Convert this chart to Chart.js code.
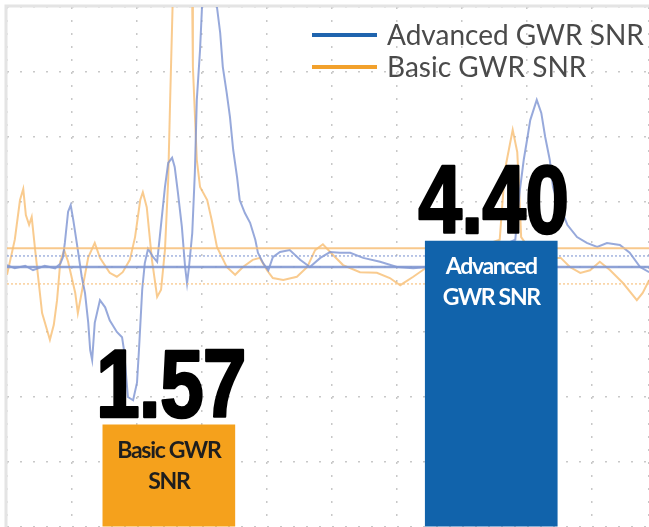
<!DOCTYPE html>
<html>
<head>
<meta charset="utf-8">
<script src="https://cdn.jsdelivr.net/npm/chart.js@4.4.1/dist/chart.umd.min.js"></script>
<style>
  html, body { margin: 0; padding: 0; background: #fff; }
  #wrap { width: 649px; height: 527px; position: relative; }
</style>
</head>
<body>
<div id="wrap"><canvas id="snrChart"></canvas></div>
<script>
// legend names of the two traces
const seriesNames = ['Advanced GWR SNR', 'Basic GWR SNR'];

// the two SNR bars
const barLabels = [['Basic GWR', 'SNR'], ['Advanced', 'GWR SNR']];
const snrValues = [1.57, 4.40];
const barPositions = [2.49, 7.45]; // in grid divisions

// echo traces, time in divisions, amplitude in divisions (0 = centre line)
const advancedTime = [0, 0.12, 0.28, 0.40, 0.58, 0.74, 0.82, 0.86, 0.89, 0.94, 0.98, 1.02, 1.06, 1.09, 1.15, 1.20, 1.25, 1.28, 1.31, 1.35,
  1.43, 1.51, 1.58, 1.69, 1.77, 1.80, 1.86, 1.94, 2.00, 2.03, 2.08, 2.12, 2.17, 2.25, 2.31, 2.35, 2.43, 2.48, 2.54, 2.58,
  2.63, 2.69, 2.74, 2.77, 2.80, 2.85, 2.89, 2.92, 2.97, 3.00, 3.06, 3.17, 3.23, 3.28, 3.32, 3.38, 3.43, 3.48, 3.54, 3.58,
  3.66, 3.74, 3.82, 3.86, 3.94, 4.02, 4.09, 4.20, 4.35, 4.51, 4.66, 4.82, 4.97, 5.12, 5.28, 5.48, 5.74, 6.00, 6.25, 6.46,
  7.28, 7.82, 7.89, 7.95, 8.00, 8.05, 8.15, 8.22, 8.28, 8.35, 8.40, 8.46, 8.51, 8.62, 8.77, 8.92, 9.08, 9.23, 9.43, 9.58,
  9.74, 9.88];
const advancedAmp = [0.03, -0.02, 0.02, -0.05, 0.02, -0.02, 0.05, 0.15, 0.37, 0.85, 0.95, 0.72, 0.46, 0.26, -0.15, -0.40, -0.86, -1.28, -1.43, -0.86,
  -0.51, -0.62, -0.82, -1.00, -1.08, -1.28, -2.00, -2.05, -1.78, -1.28, -0.35, 0.06, 0.28, 0.15, 0.08, 0.46, 1.23, 1.60, 1.68, 1.54,
  1.14, 0.62, 0.00, -0.25, 0.00, 0.52, 1.45, 2.57, 3.34, 4.00, 4.72, 4.72, 4.00, 3.60, 3.08, 2.68, 2.31, 1.80, 1.38, 1.03,
  0.83, 0.68, 0.42, 0.22, 0.06, -0.05, 0.15, 0.23, 0.26, 0.11, 0.00, 0.14, 0.23, 0.22, 0.22, 0.14, 0.08, 0.00, -0.02, 0.00,
  0.18, 0.42, 1.18, 1.65, 1.95, 2.26, 2.57, 2.37, 2.00, 1.65, 1.23, 1.03, 0.92, 0.65, 0.46, 0.37, 0.31, 0.37, 0.34, 0.22,
  0.00, -0.08];

const basicTime = [0, 0.12, 0.20, 0.25, 0.29, 0.34, 0.38, 0.43, 0.54, 0.66, 0.72, 0.77, 0.82, 0.88, 0.94, 1.05, 1.09, 1.17, 1.25, 1.35,
  1.43, 1.58, 1.69, 1.78, 1.89, 1.97, 2.05, 2.09, 2.15, 2.23, 2.31, 2.37, 2.43, 2.48, 2.51, 2.55, 2.63, 2.77, 2.85, 2.86,
  2.92, 2.97, 3.08, 3.15, 3.23, 3.38, 3.51, 3.63, 3.78, 3.89, 4.00, 4.09, 4.25, 4.46, 4.62, 4.74, 4.86, 5.02, 5.17, 5.43,
  5.69, 5.89, 6.05, 6.25, 6.51, 7.12, 7.58, 7.66, 7.72, 7.78, 7.85, 7.88, 7.91, 8.05, 8.28, 8.52, 8.66, 8.82, 8.97, 9.12,
  9.28, 9.48, 9.69, 9.78, 9.88];
const basicAmp = [-0.12, 0.42, 1.03, 1.20, 0.80, 0.65, 0.77, 0.29, -0.71, -1.12, -0.89, -0.51, 0.08, 0.26, 0.08, -0.40, -0.71, -0.28, 0.15, 0.37,
  0.14, -0.09, -0.15, -0.08, 0.11, 0.46, 1.03, 1.15, 0.92, 0.11, -0.46, -0.35, 0.26, 1.34, 2.57, 4.11, 5.03, 5.03, 4.00, 3.08,
  1.65, 1.23, 1.03, 0.72, 0.31, 0.00, -0.12, 0.00, 0.11, 0.14, -0.05, -0.17, -0.20, -0.15, 0.00, 0.26, 0.35, 0.18, 0.03, -0.08,
  -0.09, -0.17, -0.28, -0.15, 0.03, 0.26, 0.42, 1.49, 1.80, 2.11, 1.77, 1.18, 0.46, 0.26, 0.14, 0.14, 0.00, -0.09, -0.05, 0.08,
  -0.05, -0.25, -0.51, -0.40, -0.20];

// threshold levels drawn across the screen
const advancedLevels = [0, 0.17];
const basicLevels = [0.29, -0.26];

const xMax = 9.877;

function toPoints(xs, ys) {
    return xs.map((x, i) => ({ x: x, y: ys[i] }));
}

function levelLine(v) {
    return [{ x: 0, y: v }, { x: xMax, y: v }];
}

// draws the frame, bar texts and the legend
const overlayPlugin = {
    id: 'overlay',
    beforeDatasetsDraw(chart) {
        const { ctx, chartArea } = chart;
        ctx.save();
        ctx.strokeStyle = '#e4e4e4';
        ctx.lineWidth = 3;
        ctx.beginPath();
        ctx.moveTo(chartArea.left - 1, chartArea.bottom);
        ctx.lineTo(chartArea.left - 1, chartArea.top - 1);
        ctx.lineTo(chartArea.right, chartArea.top - 1);
        ctx.stroke();
        ctx.restore();
    },
    afterDatasetsDraw(chart) {
        const { ctx } = chart;
        const bars = chart.getDatasetMeta(0).data;
        ctx.save();
        ctx.textAlign = 'center';
        bars.forEach((bar, i) => {
            // big condensed value above the bar
            ctx.save();
            ctx.translate(bar.x + 2, bar.y - 8);
            ctx.scale(0.82, 1);
            ctx.fillStyle = '#000';
            ctx.strokeStyle = '#000';
            ctx.lineWidth = 2.5;
            ctx.lineJoin = 'round';
            ctx.font = 'bold 96px "Liberation Sans", Arial, sans-serif';
            ctx.letterSpacing = '-1px';
            const txt = snrValues[i].toFixed(2);
            ctx.fillText(txt, 0, 0);
            ctx.strokeText(txt, 0, 0);
            ctx.restore();

            ctx.fillStyle = i === 0 ? '#1e1e1e' : '#fff';
            ctx.font = 'bold 23px Lato, sans-serif';
            ctx.letterSpacing = '-1.3px';
            barLabels[i].forEach((line, j) => {
                ctx.fillText(line, bar.x, bar.y + 33 + j * 31);
            });
            ctx.letterSpacing = '0px';
        });

        // legend
        const legendColors = ['#1f64ae', '#f2a12c'];
        ctx.textAlign = 'left';
        ctx.font = '28px Lato, sans-serif';
        seriesNames.forEach((name, i) => {
            const y = 35 + i * 32;
            ctx.strokeStyle = legendColors[i];
            ctx.lineWidth = 4;
            ctx.beginPath();
            ctx.moveTo(312, y);
            ctx.lineTo(377, y);
            ctx.stroke();
            ctx.fillStyle = '#4a4a4a';
            ctx.fillText(name, 387, y + 10);
        });
        ctx.restore();
    }
};

const gridOpts = { color: '#c8c8c8', lineWidth: 1.5, drawTicks: false, offset: false };
const borderOpts = { display: false, dash: [2, 11] };

new Chart(document.getElementById('snrChart'), {
    data: {
        datasets: [
            {
                type: 'bar',
                label: 'SNR',
                data: toPoints(barPositions, snrValues),
                backgroundColor: ['#f5a11c', '#1163ab'],
                barThickness: 132,
                yAxisID: 'y',
                order: 0
            },
            {
                type: 'line',
                label: seriesNames[0],
                data: toPoints(advancedTime, advancedAmp),
                borderColor: 'rgba(125,148,210,0.8)',
                borderWidth: 2,
                pointRadius: 0,
                yAxisID: 'yt',
                order: 3
            },
            {
                type: 'line',
                label: seriesNames[1],
                data: toPoints(basicTime, basicAmp),
                borderColor: 'rgba(247,186,105,0.75)',
                borderWidth: 2,
                pointRadius: 0,
                yAxisID: 'yt',
                order: 4
            },
            {
                type: 'line', label: 'adv level', data: levelLine(advancedLevels[0]),
                borderColor: 'rgba(130,152,210,0.9)', borderWidth: 2.5, pointRadius: 0, yAxisID: 'yt', order: 1
            },
            {
                type: 'line', label: 'adv level 2', data: levelLine(advancedLevels[1]),
                borderColor: 'rgba(140,160,215,0.8)', borderWidth: 1.5, borderDash: [2, 2], pointRadius: 0, yAxisID: 'yt', order: 1
            },
            {
                type: 'line', label: 'basic level', data: levelLine(basicLevels[0]),
                borderColor: 'rgba(247,190,120,0.85)', borderWidth: 2, pointRadius: 0, yAxisID: 'yt', order: 2
            },
            {
                type: 'line', label: 'basic level 2', data: levelLine(basicLevels[1]),
                borderColor: 'rgba(247,195,130,0.8)', borderWidth: 1.5, borderDash: [2, 2], pointRadius: 0, yAxisID: 'yt', order: 2
            }
        ]
    },
    options: {
        responsive: true,
        maintainAspectRatio: false,
        animation: false,
        layout: { padding: { left: 7, top: 7, right: 0, bottom: 0 } },
        plugins: {
            legend: { display: false },
            tooltip: { enabled: false }
        },
        scales: {
            x: {
                type: 'linear',
                offset: false,
                min: 0,
                max: xMax,
                ticks: { display: false, stepSize: 1 },
                grid: gridOpts,
                border: borderOpts
            },
            y: {
                min: 0,
                max: 8,
                ticks: { display: false, stepSize: 1 },
                grid: gridOpts,
                border: borderOpts
            },
            yt: {
                min: -4,
                max: 4,
                display: false
            }
        }
    },
    plugins: [overlayPlugin]
});
</script>
</body>
</html>
